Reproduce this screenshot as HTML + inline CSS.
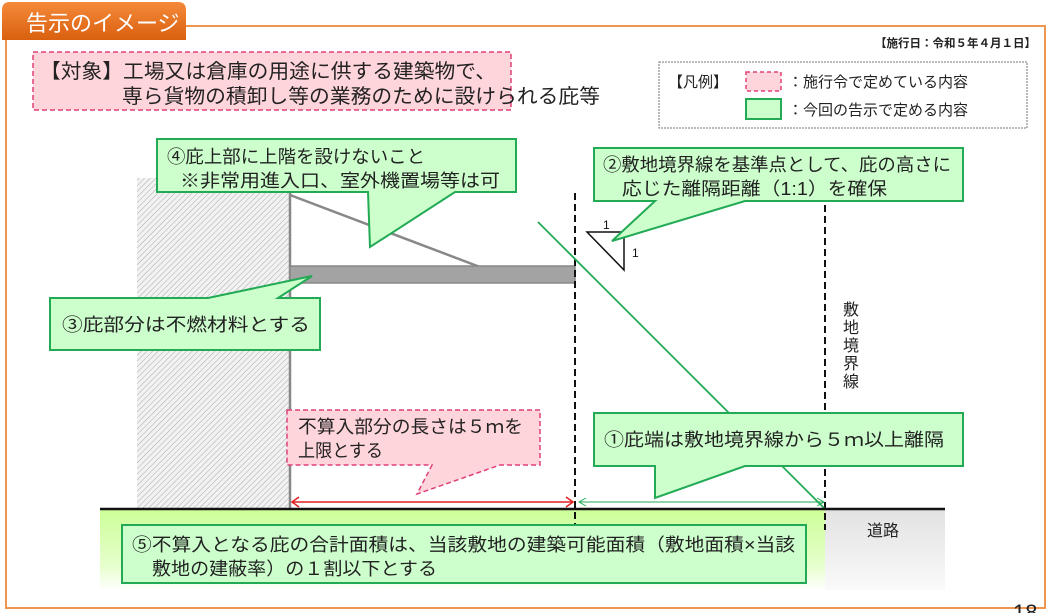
<!DOCTYPE html>
<html><head><meta charset="utf-8"><style>
body{margin:0;background:#fff;}
svg{display:block;font-family:"Liberation Sans","Noto Sans CJK JP",sans-serif;}
</style></head><body>
<svg width="1053" height="613" viewBox="0 0 1053 613" xmlns="http://www.w3.org/2000/svg">
<defs>
<pattern id="h" width="4" height="4" patternUnits="userSpaceOnUse" patternTransform="rotate(45)">
<rect width="4" height="4" fill="#f2f2f2"/><line x1="0" y1="0" x2="0" y2="4" stroke="#aaa" stroke-width="1"/></pattern>
<linearGradient id="tab" x1="0" y1="0" x2="0" y2="1"><stop offset="0" stop-color="#f58a3a"/><stop offset="1" stop-color="#d9600f"/></linearGradient>
<linearGradient id="gr" x1="0" y1="0" x2="0" y2="1"><stop offset="0" stop-color="#ccff99"/><stop offset="0.7" stop-color="#e6ffcc"/><stop offset="1" stop-color="#ffffff"/></linearGradient>
<linearGradient id="rd" x1="0" y1="0" x2="0" y2="1"><stop offset="0" stop-color="#e2e2e2"/><stop offset="1" stop-color="#fafafa"/></linearGradient>
</defs>
<path d="M186 26 H1045 V608 H6 V40" fill="none" stroke="#ee9650" stroke-width="2"/>
<path d="M2 40 V10 Q2 2 10 2 H178 Q186 2 186 10 V40 Z" fill="url(#tab)"/>
<text x="26" y="31" font-size="22" fill="#fff">告示のイメージ</text>
<text x="1036" y="47" font-size="11.5" font-weight="bold" text-anchor="end" fill="#222">【施行日：令和５年４月１日】</text>
<rect x="33" y="52" width="478" height="58" fill="#ffd5dc" stroke="#e0407a" stroke-width="1.5" stroke-dasharray="5,3"/>
<text x="40" y="78" font-size="20" fill="#222" textLength="456" lengthAdjust="spacingAndGlyphs">【対象】工場又は倉庫の用途に供する建築物で、</text>
<text x="122" y="103" font-size="20" fill="#222" textLength="478" lengthAdjust="spacingAndGlyphs">専ら貨物の積卸し等の業務のために設けられる庇等</text>
<rect x="659" y="62" width="368" height="66" fill="#fff" stroke="#777" stroke-width="1" stroke-dasharray="2,1"/>
<text x="668" y="87" font-size="15" fill="#222">【凡例】</text>
<rect x="746" y="72" width="35" height="19" fill="#ffd5dc" stroke="#e0407a" stroke-width="1.5" stroke-dasharray="4,3"/>
<text x="788" y="87" font-size="15" fill="#222">：施行令で定めている内容</text>
<rect x="746" y="99" width="35" height="20" fill="#ccffcc" stroke="#22aa55" stroke-width="2"/>
<text x="788" y="115" font-size="15" fill="#222">：今回の告示で定める内容</text>
<rect x="100" y="510" width="725" height="80" fill="url(#gr)"/>
<rect x="825" y="510" width="120" height="80" fill="url(#rd)"/>
<text x="867" y="536" font-size="16" fill="#222">道路</text>
<rect x="137" y="178" width="153" height="331" fill="url(#h)"/>
<line x1="290" y1="193" x2="290" y2="509" stroke="#888" stroke-width="2.5"/>
<line x1="290" y1="195" x2="480" y2="267" stroke="#888" stroke-width="2.5"/>
<rect x="290" y="266" width="285" height="17" fill="#a3a3a3" stroke="#888" stroke-width="1.5"/>
<line x1="575" y1="193" x2="575" y2="530" stroke="#111" stroke-width="2" stroke-dasharray="7,4"/>
<line x1="825" y1="205" x2="825" y2="530" stroke="#111" stroke-width="2" stroke-dasharray="7,4"/>
<line x1="538" y1="222" x2="825" y2="509" stroke="#22aa55" stroke-width="1.8"/>
<path d="M587 232 H624 V270 Z" fill="#fff" stroke="#111" stroke-width="1.5"/>
<text x="603" y="229" font-size="12" fill="#111">1</text>
<text x="632" y="257" font-size="12" fill="#111">1</text>
<text x="843" y="315" font-size="16" fill="#222">敷</text>
<text x="843" y="333" font-size="16" fill="#222">地</text>
<text x="843" y="351" font-size="16" fill="#222">境</text>
<text x="843" y="369" font-size="16" fill="#222">界</text>
<text x="843" y="387" font-size="16" fill="#222">線</text>
<line x1="100" y1="509" x2="945" y2="509" stroke="#111" stroke-width="2.5"/>
<line x1="293" y1="502" x2="572" y2="502" stroke="#e02020" stroke-width="1.5"/>
<path d="M299 497 L292 502 L299 507 M566 497 L573 502 L566 507" fill="none" stroke="#e02020" stroke-width="1.5"/>
<line x1="580" y1="502" x2="823" y2="502" stroke="#22aa55" stroke-width="1"/>
<path d="M586 498 L579 502 L586 506 M817 498 L824 502 L817 506" fill="none" stroke="#22aa55" stroke-width="1"/>
<path d="M157 139 H516 V192 H455 L370 247 L368 192 H157 Z" fill="#ccffcc" stroke="#22aa55" stroke-width="2"/>
<text x="167" y="163" font-size="18" fill="#222" textLength="258" lengthAdjust="spacingAndGlyphs">④庇上部に上階を設けないこと</text>
<text x="180" y="187" font-size="18" fill="#222" textLength="320" lengthAdjust="spacingAndGlyphs">※非常用進入口、室外機置場等は可</text>
<path d="M594 148 H963 V201 H745 L612 241 L655 201 H594 Z" fill="#ccffcc" stroke="#22aa55" stroke-width="2"/>
<text x="603" y="171" font-size="18" fill="#222" textLength="348" lengthAdjust="spacingAndGlyphs">②敷地境界線を基準点として、庇の高さに</text>
<text x="622" y="195" font-size="18" fill="#222" textLength="265" lengthAdjust="spacingAndGlyphs">応じた離隔距離（1:1）を確保</text>
<path d="M50 298 H208 L312 276 L278 298 H320 V350 H50 Z" fill="#ccffcc" stroke="#22aa55" stroke-width="2"/>
<text x="62" y="331" font-size="18" fill="#222" textLength="248" lengthAdjust="spacingAndGlyphs">③庇部分は不燃材料とする</text>
<path d="M287 410 H540 V465 H500 L417 494 L432 465 H287 Z" fill="#ffd5dc" stroke="#e0407a" stroke-width="1.5" stroke-dasharray="5,3"/>
<text x="298" y="433" font-size="18" fill="#222" textLength="225" lengthAdjust="spacingAndGlyphs">不算入部分の長さは５ｍを</text>
<text x="298" y="457" font-size="18" fill="#222" textLength="85" lengthAdjust="spacingAndGlyphs">上限とする</text>
<path d="M594 413 H963 V466 H745 L655 498 L655 466 H594 Z" fill="#ccffcc" stroke="#22aa55" stroke-width="2"/>
<text x="604" y="446" font-size="18" fill="#222" textLength="340" lengthAdjust="spacingAndGlyphs">①庇端は敷地境界線から５ｍ以上離隔</text>
<rect x="122" y="525" width="684" height="58" fill="#ccffcc" stroke="#22aa55" stroke-width="2"/>
<text x="132" y="551" font-size="18" fill="#222" textLength="663" lengthAdjust="spacingAndGlyphs">⑤不算入となる庇の合計面積は、当該敷地の建築可能面積（敷地面積×当該</text>
<text x="152" y="575" font-size="18" fill="#222" textLength="285" lengthAdjust="spacingAndGlyphs">敷地の建蔽率）の１割以下とする</text>
<text x="1013" y="620" font-size="22" fill="#222">18</text>
</svg>
</body></html>
